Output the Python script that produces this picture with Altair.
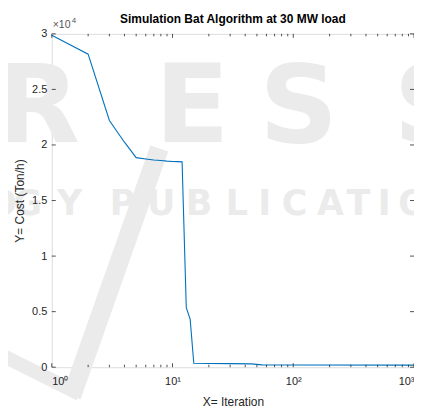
import altair as alt
import pandas as pd

# Convergence curve
iterations = [1, 2, 3, 4, 5, 6, 7, 8, 9, 10, 11, 12, 13, 14, 15, 20, 30, 45, 55, 100, 1000]
cost = [29880, 28170, 22200, 20250, 18860, 18740, 18650, 18600, 18550, 18520, 18500, 18480,
        5350, 4300, 360, 340, 320, 300, 210, 200, 190]

# Axis tick positions
x_major = [1, 10, 100, 1000]
x_minor = [2, 3, 4, 5, 6, 7, 8, 9, 20, 30, 40, 50, 60, 70, 80, 90,
           200, 300, 400, 500, 600, 700, 800, 900]
y_major = [0, 5000, 10000, 15000, 20000, 25000, 30000]

# Publisher watermark behind the plot (decoration)
wm_big_letters = ["R", "E", "S", "S"]
wm_small_letters = ["O", "G", "Y", "P", "U", "B", "L", "I", "C", "A", "T", "I", "O"]

W, H = 364, 335
FONT = "Liberation Sans"
AX = "#262626"
WM = "#ebebeb"

df = pd.DataFrame({"iter": iterations, "cost": cost})
xs = alt.Scale(type="log", domain=[1, 1000], nice=False)
ys = alt.Scale(domain=[0, 30000], nice=False, zero=True)

xaxis = alt.Axis(
    values=x_major, title="X= Iteration", grid=False, ticks=False, tickSize=0,
    domain=False, labelPadding=8, labelFontSize=11, labelColor=AX, zindex=2,
    labelExpr="datum.value==1?'10⁰':datum.value==10?'10¹':datum.value==100?'10²':'10³'",
    titleFontSize=12, titleFontWeight="normal", titlePadding=10, titleColor=AX,
    labelFont=FONT, titleFont=FONT)
yaxis = alt.Axis(
    values=y_major, title="Y= Cost (Ton/h)", grid=False, ticks=False, tickSize=0,
    domain=False, labelPadding=5, labelFontSize=11, labelColor=AX, zindex=2,
    labelExpr="'' + (datum.value/10000)",
    titleFontSize=12, titleFontWeight="normal", titlePadding=5, titleColor=AX,
    labelFont=FONT, titleFont=FONT)

# --- watermark layers (pixel placement, purely decorative) ---
big_x = [-14, 141, 248, 383]
small_x = [-50, -24, 18, 71, 110, 148, 186, 214, 244, 280, 308, 334, 363]
wm_big = alt.Chart(pd.DataFrame({"t": wm_big_letters, "px": big_x})).mark_text(
    font="DejaVu Sans", fontWeight="bold", fontSize=110, color=WM,
    align="center", baseline="alphabetic"
).encode(text="t:N", x=alt.X("px:Q", scale=None), y=alt.value(109))
wm_small = alt.Chart(pd.DataFrame({"t": wm_small_letters, "px": small_x})).mark_text(
    font="DejaVu Sans", fontWeight="bold", fontSize=35, color=WM,
    align="center", baseline="alphabetic"
).encode(text="t:N", x=alt.X("px:Q", scale=None), y=alt.value(182))
wm_slash = alt.Chart(pd.DataFrame({"k": [0]})).mark_rule(
    color=WM, strokeWidth=19, strokeCap="butt"
).encode(x=alt.value(108), y=alt.value(115), x2=alt.value(20), y2=alt.value(364))
wm_swoosh = alt.Chart(pd.DataFrame({"k": [0]})).mark_rule(
    color=WM, strokeWidth=14, strokeCap="butt"
).encode(x=alt.value(-60), y=alt.value(318), x2=alt.value(28), y2=alt.value(362))

line = alt.Chart(df).mark_line(color="#0072BD", strokeWidth=1.1).encode(
    x=alt.X("iter:Q", scale=xs, axis=xaxis),
    y=alt.Y("cost:Q", scale=ys, axis=yaxis),
)

xmaj = pd.DataFrame({"iter": x_major})
xmin = pd.DataFrame({"iter": x_minor})
ymaj = pd.DataFrame({"cost": y_major})

def xticks(d, y1, y2):
    return alt.Chart(d).mark_rule(color=AX, strokeWidth=0.8).encode(
        x=alt.X("iter:Q", scale=xs, axis=xaxis), y=alt.value(y1), y2=alt.value(y2))

def yticks(d, x1, x2):
    return alt.Chart(d).mark_rule(color=AX, strokeWidth=0.8).encode(
        y=alt.Y("cost:Q", scale=ys, axis=yaxis), x=alt.value(x1), x2=alt.value(x2))

tk = [
    xticks(xmin, H, H - 2.5), xticks(xmin, 0, 2.5),
    xticks(xmaj, H, H - 4), xticks(xmaj, 0, 4),
    yticks(ymaj, 0, 4), yticks(ymaj, W, W - 4),
]

exp_base = alt.Chart(pd.DataFrame({"t": ["×10"]})).mark_text(
    align="left", baseline="alphabetic", fontSize=10.5, font=FONT, color="#555555"
).encode(text="t:N", x=alt.value(1), y=alt.value(-6))
exp_pow = alt.Chart(pd.DataFrame({"t": ["4"]})).mark_text(
    align="left", baseline="alphabetic", fontSize=8, font=FONT, color="#555555"
).encode(text="t:N", x=alt.value(20), y=alt.value(-11))

chart = alt.layer(wm_big, wm_small, wm_slash, wm_swoosh, line, *tk, exp_base, exp_pow).properties(
    width=W, height=H,
    title=alt.TitleParams("Simulation Bat Algorithm at 30 MW load", fontSize=12,
                          font=FONT, fontWeight="bold", color="#000000", offset=-9),
    autosize=alt.AutoSizeParams(type="none"),
    padding={"left": 44, "top": 25, "right": 0, "bottom": 40},
).configure_view(stroke=AX, strokeWidth=1).configure(background="white")

chart.save("out.html", embed_options={"renderer": "svg", "actions": False})
